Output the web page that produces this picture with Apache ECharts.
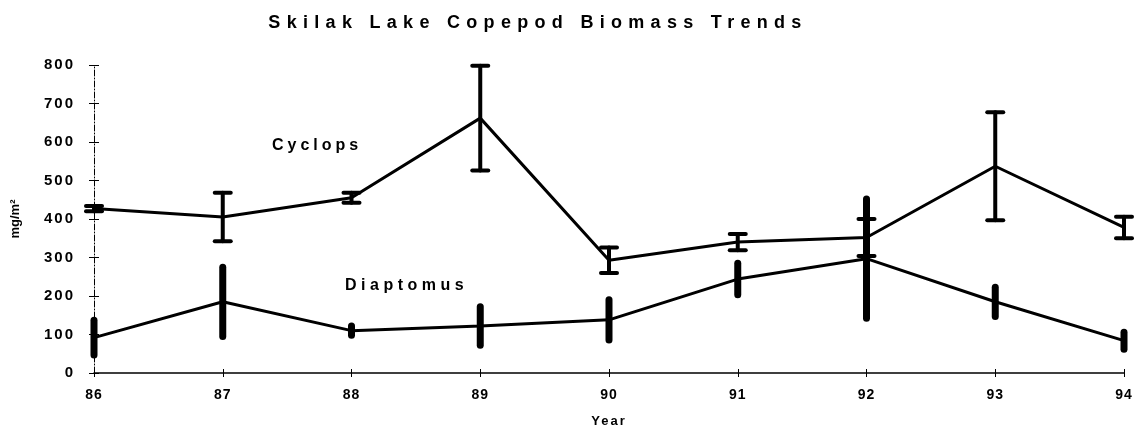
<!DOCTYPE html>
<html>
<head>
<meta charset="utf-8">
<script src="https://cdn.jsdelivr.net/npm/echarts@6/dist/echarts.min.js"></script>
<style>html,body{margin:0;padding:0;background:#fff;}#c{width:1140px;height:437px;}</style>
</head>
<body>
<div id="c"></div>
<script>
const years = [86, 87, 88, 89, 90, 91, 92, 93, 94];
const cyclops = [427, 405, 455, 662, 293, 340, 352, 537, 378];
const cyclopsErr = [7, 63, 13, 136, 33, 21, 48, 140, 28];
const diaptomus = [92, 185, 110, 122, 138, 244, 297, 185, 84];
const diaptomusErr = [45, 90, 12, 50, 52, 41, 155, 38, 22];
const titleText = 'Skilak Lake Copepod Biomass Trends';
const labelCyclops = 'Cyclops';
const labelDiaptomus = 'Diaptomus';

// letter spacing for the widely spaced texts of the original chart
const SPACING = {};
SPACING[titleText] = '6.3px';
SPACING[labelCyclops] = '4px';
SPACING[labelDiaptomus] = '4.5px';
SPACING['Year'] = '2px';
years.forEach(y => { SPACING[String(y)] = '1px'; });
const origFill = CanvasRenderingContext2D.prototype.fillText;
CanvasRenderingContext2D.prototype.fillText = function (t, x, y, mw) {
  let sp = SPACING[t];
  if (!sp && /^\d+$/.test(String(t))) sp = '2px';
  if ('letterSpacing' in this) {
    this.letterSpacing = sp || '0px';
    const r = mw === undefined ? origFill.call(this, t, x, y) : origFill.call(this, t, x, y, mw);
    this.letterSpacing = '0px';
    return r;
  }
  return origFill.apply(this, arguments);
};

const chart = echarts.init(document.getElementById('c'), null, {renderer: 'canvas'});

function errData(vals, errs) {
  return years.map((y, i) => [y, vals[i] - errs[i], vals[i] + errs[i]]);
}

function errRender(capW, lw) {
  return function (params, api) {
    const x = api.value(0);
    const lo = api.coord([x, api.value(1)]);
    const hi = api.coord([x, api.value(2)]);
    const children = [{
      type: 'line',
      shape: {x1: lo[0], y1: lo[1], x2: hi[0], y2: hi[1]},
      style: {stroke: '#000', lineWidth: lw, lineCap: 'round'}
    }];
    if (capW > 0) {
      children.push({type: 'line', shape: {x1: lo[0] - capW / 2, y1: lo[1], x2: lo[0] + capW / 2, y2: lo[1]},
        style: {stroke: '#000', lineWidth: 4, lineCap: 'round'}});
      children.push({type: 'line', shape: {x1: hi[0] - capW / 2, y1: hi[1], x2: hi[0] + capW / 2, y2: hi[1]},
        style: {stroke: '#000', lineWidth: 4, lineCap: 'round'}});
    }
    return {type: 'group', children: children};
  };
}

const font = 'Liberation Sans, Arial, sans-serif';

chart.setOption({
  animation: false,
  backgroundColor: '#fff',
  title: {
    text: titleText,
    left: 533, top: 9, textAlign: 'center',
    textStyle: {fontFamily: font, fontWeight: 'bold', fontSize: 18, color: '#000'}
  },
  grid: {left: 94, right: 16, top: 65, bottom: 64},
  xAxis: [{
    type: 'value', min: 86, max: 94, interval: 1,
    name: 'Year', nameLocation: 'middle', nameGap: 42,
    nameTextStyle: {fontFamily: font, fontWeight: 'bold', fontSize: 13, color: '#000'},
    axisLine: {lineStyle: {color: '#000', width: 1.5}},
    axisTick: {show: true, length: 4, lineStyle: {color: '#000'}},
    axisLabel: {fontFamily: font, fontWeight: 'bold', fontSize: 14, color: '#000', margin: 15},
    splitLine: {show: false}
  }, {
    type: 'value', min: 86, max: 94, interval: 1, position: 'bottom',
    axisLine: {show: false},
    axisTick: {show: true, inside: true, length: 4, lineStyle: {color: '#000'}},
    axisLabel: {show: false}, splitLine: {show: false}
  }],
  yAxis: [{
    type: 'value', min: 0, max: 800, interval: 100,
    name: 'mg/m²', nameLocation: 'middle', nameGap: 72, nameRotate: 90,
    nameTextStyle: {fontFamily: font, fontWeight: 'bold', fontSize: 13, color: '#000'},
    axisLine: {show: true, lineStyle: {color: '#000', width: 1, type: [6, 2, 1, 2]}},
    axisTick: {show: true, length: 5, lineStyle: {color: '#000'}},
    axisLabel: {fontFamily: font, fontWeight: 'bold', fontSize: 15, color: '#000', margin: 19},
    splitLine: {show: false}
  }, {
    type: 'value', min: 0, max: 800, interval: 100, position: 'left',
    axisLine: {show: false},
    axisTick: {show: true, inside: true, length: 5, lineStyle: {color: '#000'}},
    axisLabel: {show: false}, splitLine: {show: false}
  }],
  graphic: [
    {type: 'text', left: 272, top: 138, style: {text: labelCyclops, font: 'bold 16px ' + font, fill: '#000'}},
    {type: 'text', left: 345, top: 278, style: {text: labelDiaptomus, font: 'bold 16px ' + font, fill: '#000'}}
  ],
  series: [
    {
      name: 'Cyclops', type: 'line', symbol: 'none',
      data: years.map((y, i) => [y, cyclops[i]]),
      lineStyle: {color: '#000', width: 3}
    },
    {
      name: 'Diaptomus', type: 'line', symbol: 'none',
      data: years.map((y, i) => [y, diaptomus[i]]),
      lineStyle: {color: '#000', width: 3}
    },
    {
      name: 'Cyclops error', type: 'custom', renderItem: errRender(16, 4),
      data: errData(cyclops, cyclopsErr), encode: {x: 0, y: [1, 2]}, z: 3
    },
    {
      name: 'Diaptomus error', type: 'custom', renderItem: errRender(0, 7),
      data: errData(diaptomus, diaptomusErr), encode: {x: 0, y: [1, 2]}, z: 3
    }
  ]
});
</script>
</body>
</html>
